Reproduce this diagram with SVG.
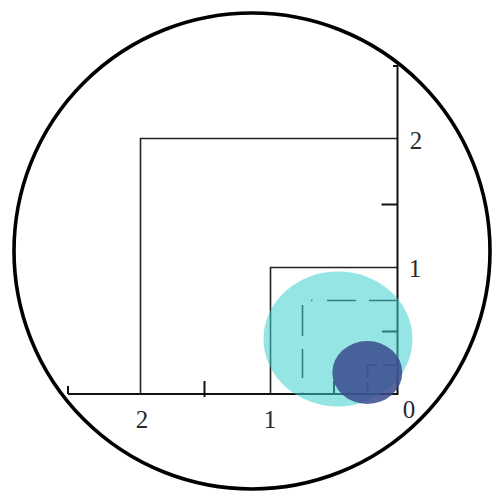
<svg xmlns="http://www.w3.org/2000/svg" width="492" height="493" viewBox="0 0 492 493">
<style>
.ax{stroke:#111;stroke-width:2;fill:none}
.sq{stroke:#222;stroke-width:1.6;fill:none}
.dash{stroke:#222;stroke-width:1.6;fill:none}
.lbl{font-family:"Liberation Serif","Times New Roman",serif;font-size:25px;fill:#2a2a2a;text-anchor:middle}
</style>
<rect width="492" height="493" fill="#fff"/>
<circle id="frame" cx="252" cy="251" r="238" fill="none" stroke="#000" stroke-width="3.6"/>
<g id="squares">
<path class="sq" d="M140.5 394V138.5H397.5"/>
<path class="sq" d="M270.5 394V267.5H397.5"/>
</g>
<g id="axes">
<path class="ax" d="M68 394H397.5V66H393"/>
<path class="ax" d="M68 386V394"/>
<path class="ax" d="M204.5 381V397"/>
<path class="ax" d="M334 381V394"/>
<path class="ax" d="M381.5 204.5H397.5"/>
<path class="ax" d="M382 331.5H397.5"/>
</g>
<g id="dashed">
<path class="dash" d="M302.5 394V300.5H397.5" stroke-dasharray="1.5 14.5 29 13 31 13"/>
<path class="dash" d="M367.5 382V392M367.5 365V377M367.5 365H377M383 365H397"/>
</g>
<g id="ellipses">
<ellipse cx="338" cy="339" rx="74.5" ry="67.5" fill="#40d0d0" fill-opacity="0.55"/>
<ellipse cx="367.3" cy="372.5" rx="35" ry="31.5" fill="#3a4a8e" fill-opacity="0.85"/>
</g>
<g id="labels">
<text class="lbl" x="142" y="428">2</text>
<text class="lbl" x="270" y="428">1</text>
<text class="lbl" x="409" y="418">0</text>
<text class="lbl" x="415" y="277">1</text>
<text class="lbl" x="416" y="149">2</text>
</g>
</svg>
